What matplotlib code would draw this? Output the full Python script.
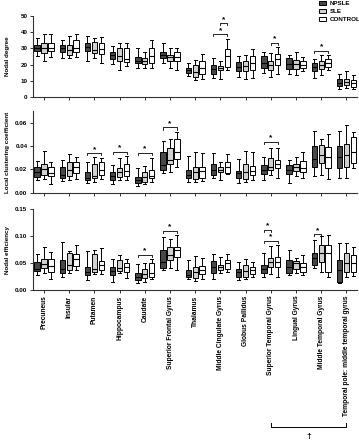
import matplotlib
matplotlib.use("Agg")
import matplotlib.pyplot as plt
from matplotlib.patches import Patch
import matplotlib.transforms as mtransforms

plt.rcParams['font.family'] = ['Liberation Sans', 'DejaVu Sans']
plt.rcParams['font.weight'] = 'bold'

regions = ["Precuneus", "Insular", "Putamen", "Hippocampus", "Caudate",
           "Superior Frontal Gyrus", "Thalamus", "Middle Cingulate Gyrus",
           "Globus Pallidus", "Superior Temporal Gyrus", "Lingual Gyrus",
           "Middle Temporal Gyrus", "Temporal pole: middle temporal gyrus"]
groups = ["NPSLE", "SLE", "CONTROL"]
group_colors = ["#474747", "#d0d0d0", "#ffffff"]

# each box: [whisker low, Q1, median, Q3, whisker high]
degree_npsle = [[25, 28.5, 30, 32, 36.5], [24, 27.5, 30, 32, 35], [22.5, 28.5, 31, 33.5, 37.5],
                [20.5, 23.5, 26, 28, 31.5], [18, 21, 22.5, 24.5, 30], [21, 24, 26, 27.5, 33],
                [13, 15, 16.5, 18, 21], [12, 14.5, 17.5, 20, 24], [12.5, 16, 18.5, 21.5, 25],
                [15, 18, 21, 25, 27.5], [14.5, 17.5, 20.5, 24, 26], [12, 16, 18.5, 21, 23.5],
                [5, 7, 9, 11, 14.5]]
degree_sle = [[22, 27, 30, 33.5, 39], [24, 26, 29, 32, 37.5], [24, 27, 29, 34, 36.5],
              [16.5, 22, 25.5, 30.5, 33], [18, 20.5, 22, 24, 27.5], [18, 22, 24.5, 26, 30],
              [10.5, 12.5, 15.5, 20, 23], [11, 16.5, 18, 19, 22], [11.5, 16, 19, 22, 26],
              [12.5, 17, 20, 22, 27], [13.5, 17.5, 20.5, 23, 28], [13.5, 17.5, 20, 22, 26],
              [5.5, 7.5, 9.5, 11.5, 16]]
degree_control = [[24.5, 28.5, 30.5, 33, 39], [24.5, 27.5, 30.5, 35, 38.5], [21, 26.5, 29.5, 33.5, 37],
                  [19, 21.5, 23.5, 30.5, 33.5], [18, 21, 25, 30, 35], [17, 22, 24.5, 27.5, 30],
                  [11, 14.5, 18, 22, 26.5], [16.5, 18.5, 25, 29.5, 35.5], [12, 17, 21, 25, 29.5],
                  [14.5, 20, 23.5, 26.5, 31], [16, 18, 20, 22, 24.5], [17, 18.7, 21, 23.5, 26],
                  [5, 6.5, 8.5, 10.5, 13.5]]

lcc_npsle = [[0.011, 0.0137, 0.0175, 0.022, 0.0275], [0.010, 0.0125, 0.015, 0.022, 0.028],
             [0.008, 0.011, 0.013, 0.018, 0.0265], [0.0075, 0.011, 0.0145, 0.018, 0.024],
             [0.006, 0.0085, 0.011, 0.0137, 0.021], [0.0165, 0.0195, 0.024, 0.035, 0.044],
             [0.0095, 0.0125, 0.015, 0.0195, 0.0315], [0.013, 0.015, 0.0195, 0.025, 0.034],
             [0.0085, 0.0125, 0.0165, 0.0186, 0.029], [0.011, 0.016, 0.0195, 0.0238, 0.031],
             [0.0086, 0.016, 0.0195, 0.0238, 0.028], [0.0146, 0.0223, 0.0287, 0.040, 0.053],
             [0.0129, 0.0215, 0.031, 0.040, 0.053]]
lcc_sle = [[0.012, 0.015, 0.020, 0.0245, 0.036], [0.011, 0.0145, 0.0195, 0.026, 0.033],
           [0.009, 0.013, 0.0145, 0.0245, 0.031], [0.011, 0.0137, 0.018, 0.021, 0.0295],
           [0.0075, 0.0095, 0.0135, 0.018, 0.023], [0.018, 0.025, 0.028, 0.038, 0.0465],
           [0.0095, 0.0115, 0.018, 0.0223, 0.035], [0.011, 0.0175, 0.0195, 0.022, 0.0266],
           [0.0095, 0.0115, 0.0175, 0.0246, 0.036], [0.015, 0.0195, 0.0223, 0.030, 0.038],
           [0.0146, 0.019, 0.0218, 0.0246, 0.031], [0.0152, 0.0258, 0.0324, 0.041, 0.0458],
           [0.0129, 0.0223, 0.0324, 0.0415, 0.058]]
lcc_control = [[0.0075, 0.0145, 0.017, 0.022, 0.026], [0.012, 0.017, 0.022, 0.026, 0.031],
               [0.012, 0.015, 0.0195, 0.026, 0.0295], [0.011, 0.0145, 0.0185, 0.0245, 0.0315],
               [0.0095, 0.0125, 0.0145, 0.0195, 0.0295], [0.022, 0.0287, 0.035, 0.0458, 0.0524],
               [0.010, 0.0125, 0.0185, 0.0223, 0.034], [0.0158, 0.0172, 0.022, 0.0266, 0.033],
               [0.011, 0.015, 0.0185, 0.023, 0.035], [0.0123, 0.021, 0.0246, 0.028, 0.038],
               [0.0123, 0.0175, 0.021, 0.027, 0.0347], [0.0115, 0.021, 0.031, 0.0395, 0.050],
               [0.021, 0.0252, 0.0352, 0.048, 0.0518]]

eff_npsle = [[0.028, 0.036, 0.038, 0.0525, 0.066], [0.0235, 0.031, 0.038, 0.0555, 0.088],
             [0.0185, 0.028, 0.034, 0.043, 0.072], [0.0155, 0.028, 0.036, 0.043, 0.057],
             [0.0123, 0.0185, 0.0247, 0.031, 0.049], [0.037, 0.040, 0.0525, 0.074, 0.099],
             [0.020, 0.0235, 0.028, 0.037, 0.0555], [0.020, 0.031, 0.042, 0.0543, 0.066],
             [0.0185, 0.0235, 0.034, 0.0383, 0.0525], [0.0247, 0.032, 0.038, 0.0463, 0.068],
             [0.0278, 0.031, 0.043, 0.0555, 0.074], [0.040, 0.0463, 0.0586, 0.068, 0.0926],
             [0.0123, 0.0154, 0.037, 0.0555, 0.0877]]
eff_sle = [[0.031, 0.040, 0.0475, 0.0575, 0.080], [0.031, 0.037, 0.046, 0.069, 0.073],
           [0.0296, 0.0327, 0.038, 0.066, 0.0745], [0.031, 0.035, 0.041, 0.0555, 0.065],
           [0.0154, 0.0216, 0.030, 0.0383, 0.0506], [0.040, 0.0555, 0.065, 0.080, 0.0944],
           [0.0173, 0.0216, 0.034, 0.043, 0.063], [0.031, 0.037, 0.042, 0.0463, 0.0617],
           [0.020, 0.0247, 0.036, 0.0463, 0.057], [0.0296, 0.043, 0.0525, 0.0586, 0.0815],
           [0.031, 0.0383, 0.0506, 0.0537, 0.0586], [0.034, 0.0525, 0.068, 0.0833, 0.100],
           [0.0247, 0.034, 0.0506, 0.068, 0.0877]]
eff_control = [[0.020, 0.034, 0.0445, 0.057, 0.070], [0.037, 0.0445, 0.0568, 0.066, 0.083],
               [0.0296, 0.037, 0.046, 0.054, 0.077], [0.0216, 0.034, 0.043, 0.0506, 0.057],
               [0.020, 0.0247, 0.032, 0.0494, 0.0574], [0.037, 0.0617, 0.074, 0.080, 0.101],
               [0.020, 0.0296, 0.037, 0.0445, 0.0586], [0.034, 0.0383, 0.0494, 0.0555, 0.066],
               [0.0247, 0.0296, 0.037, 0.043, 0.0525], [0.0247, 0.043, 0.0525, 0.0605, 0.0833],
               [0.0278, 0.034, 0.043, 0.0506, 0.065], [0.0235, 0.034, 0.068, 0.0833, 0.102],
               [0.026, 0.034, 0.0506, 0.0648, 0.080]]

# significance brackets: (region index, group a, group b, height)
sig_degree = [(7, 1, 2, 45.3), (7, 0, 2, 38.6), (9, 1, 2, 33.5), (11, 0, 2, 28.3)]
sig_lcc = [(2, 0, 2, 0.0338), (3, 0, 2, 0.0352), (4, 0, 2, 0.034), (5, 0, 2, 0.056), (9, 0, 2, 0.0438)]
sig_eff = [(4, 0, 2, 0.0648), (5, 0, 2, 0.110), (9, 0, 1, 0.112), (9, 0, 2, 0.091), (11, 0, 1, 0.103)]

panels = [
    ("Nodal degree", [degree_npsle, degree_sle, degree_control], sig_degree,
     (0, 50), [0, 10, 20, 30, 40, 50], ["0", "10", "20", "30", "40", "50"]),
    ("Local clustering coefficient", [lcc_npsle, lcc_sle, lcc_control], sig_lcc,
     (0, 0.07), [0, 0.02, 0.04, 0.06], ["0.00", "0.02", "0.04", "0.06"]),
    ("Nodal efficiency", [eff_npsle, eff_sle, eff_control], sig_eff,
     (0, 0.15), [0, 0.05, 0.10, 0.15], ["0.00", "0.05", "0.10", "0.15"]),
]

W, H = 359, 440
fig = plt.figure(figsize=(W / 100, H / 100), dpi=100)

left = 33 / W
width = 324 / W
axes_px = [(15.7, 97.3), (111.2, 192.7), (209, 290)]
offsets = [-0.275, 0.0, 0.275]
bw = 0.21
fs = 4.5

axes = []
for pi, (ylabel, data, sigs, ylim, yt, ytl) in enumerate(panels):
    top_px, bot_px = axes_px[pi]
    ax = fig.add_axes([left, 1 - bot_px / H, width, (bot_px - top_px) / H])
    axes.append(ax)
    for gi in range(3):
        stats = []
        for ri in range(len(regions)):
            lo, q1, med, q3, hi = data[gi][ri]
            stats.append(dict(whislo=lo, q1=q1, med=med, q3=q3, whishi=hi, fliers=[]))
        pos = [ri + offsets[gi] for ri in range(len(regions))]
        ax.bxp(stats, positions=pos, widths=bw, patch_artist=True, showfliers=False,
               manage_ticks=False,
               boxprops=dict(facecolor=group_colors[gi], edgecolor='black', linewidth=0.7),
               medianprops=dict(color='black', linewidth=0.8),
               whiskerprops=dict(color='black', linewidth=0.7),
               capprops=dict(color='black', linewidth=0.7),
               capwidths=0.12)
    ax.set_xlim(-0.437, 12.42)
    ax.set_ylim(*ylim)
    ax.set_yticks(yt)
    ax.set_yticklabels(ytl, fontsize=fs, fontweight='bold')
    ax.set_xticks(range(len(regions)))
    if pi == 2:
        ax.set_xticklabels(regions, rotation=90, fontsize=fs + 0.3, fontweight='bold')
    else:
        ax.set_xticklabels([])
    for s in ['top', 'right']:
        ax.spines[s].set_visible(False)
    for s in ['left', 'bottom']:
        ax.spines[s].set_linewidth(0.8)
        ax.spines[s].set_color('#333333')
    ax.tick_params(axis='both', length=2.5, width=0.7, pad=1.5, color='#333333')
    ax.patch.set_alpha(0)
    fig.text(8 / W, 1 - (top_px + bot_px) / 2 / H, ylabel, rotation=90, ha='center',
             va='center', fontsize=fs, fontweight='bold')
    # brackets
    tick = (ylim[1] - ylim[0]) * 0.025
    for ri, ga, gb, y in sigs:
        xa = ri + offsets[ga]
        xb = ri + offsets[gb]
        ax.plot([xa, xa, xb, xb], [y - tick, y, y, y - tick], color='black', lw=0.6,
                clip_on=False)
        ax.text((xa + xb) / 2, y + tick * 0.2, "*", ha='center', va='bottom',
                fontsize=6, fontweight='bold', clip_on=False)

# bottom bracket with dagger
axb = axes[2]
tr = mtransforms.blended_transform_factory(axb.transData, fig.transFigure)
yb = 1 - 427 / H
yt_ = 1 - 423 / H
axb.plot([9, 9, 12, 12], [yt_, yb, yb, yt_], transform=tr, color='black', lw=0.7, clip_on=False)
axb.text(10.5, 1 - 436 / H, "†", transform=tr, ha='center', va='center', fontsize=6,
         fontweight='bold')

handles = [Patch(facecolor=c, edgecolor='black', linewidth=0.7) for c in group_colors]
fig.legend(handles, groups, loc='upper left', bbox_to_anchor=(318 / W, 1.0), frameon=False,
           fontsize=fs, handlelength=1.1, handleheight=0.65, handletextpad=0.6,
           labelspacing=0.45, borderpad=0.15, borderaxespad=0)

fig.savefig("out.png", dpi=100)
